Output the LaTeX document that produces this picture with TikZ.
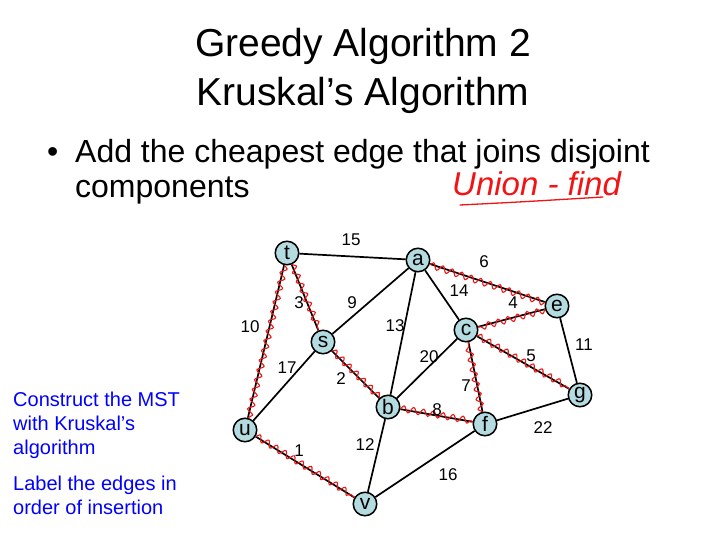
\documentclass[tikz,border=0pt]{standalone}
\usepackage{fontspec}
\setmainfont{Liberation Sans}
\usetikzlibrary{decorations.pathmorphing}
\pgfdeclarelayer{background}
\pgfsetlayers{background,main}
\definecolor{nodefill}{RGB}{180,220,224}
\definecolor{slideblue}{RGB}{0,0,255}
\definecolor{penred}{RGB}{240,20,20}
\tikzset{
  vert/.style={circle,draw=black,line width=1.5pt,fill=nodefill,minimum size=23.5pt,inner sep=0pt,font=\fontsize{21}{21}\selectfont},
  edge/.style={black,line width=1.7pt},
  wt/.style={font=\fontsize{17}{17}\selectfont,inner sep=0pt},
  mst/.style={penred,line width=1.1pt,line join=round,decorate,decoration={snake,amplitude=3.2pt,segment length=10pt,raise=0.8pt}},
  titletext/.style={font=\fontsize{39}{39}\selectfont,anchor=base,inner sep=0pt},
  bullettext/.style={font=\fontsize{32}{32}\selectfont,anchor=base west,inner sep=0pt},
  bluetext/.style={font=\fontsize{20}{20}\selectfont,text=slideblue,anchor=base west,inner sep=0pt},
}
\begin{document}
\begin{tikzpicture}[x=1pt,y=-1pt]
\useasboundingbox (0,0) rectangle (720,540);
% title
\node[titletext] (title1) at (363,57) {Greedy Algorithm 2};
\node[titletext] (title2) at (363,106) {Kruskal’s Algorithm};
% bullet
\node[bullettext] (bul) at (47,163) {•};
\node[bullettext] (line1) at (75,163) {Add the cheapest edge that joins disjoint};
\node[bullettext] (line2) at (75,198) {components};
% handwritten note
\node[font=\fontsize{33}{33}\selectfont\itshape,text=penred,anchor=base west,inner sep=0pt] (uf) at (452,196) {Union - find};
\coordinate (ul1) at (460,205);
\coordinate (ul2) at (603,197);
\draw[penred,line width=1.3pt,line cap=round] (ul1) .. controls (520,202) .. (ul2);
% blue text
\node[bluetext] (b1) at (13,406) {Construct the MST};
\node[bluetext] (b2) at (13,430) {with Kruskal’s};
\node[bluetext] (b3) at (13,454) {algorithm};
\node[bluetext] (b4) at (13,490) {Label the edges in};
\node[bluetext] (b5) at (13,514) {order of insertion};
% vertices
\node[vert] (t) at (287,253) {t};
\node[vert] (a) at (418,260) {a};
\node[vert] (e) at (557,306) {e};
\node[vert] (c) at (466,330) {c};
\node[vert] (s) at (323,342) {s};
\node[vert] (g) at (580,395) {g};
\node[vert] (b) at (388,407) {b};
\node[vert] (f) at (485,424) {f};
\node[vert] (u) at (245,430) {u};
\node[vert] (v) at (365,504) {v};
\begin{pgfonlayer}{background}
\draw[edge] (t) -- (a);
\draw[edge] (t) -- (s);
\draw[edge] (t) -- (u);
\draw[edge] (a) -- (s);
\draw[edge] (a) -- (b);
\draw[edge] (a) -- (c);
\draw[edge] (a) -- (e);
\draw[edge] (e) -- (c);
\draw[edge] (e) -- (g);
\draw[edge] (c) -- (b);
\draw[edge] (c) -- (f);
\draw[edge] (c) -- (g);
\draw[edge] (s) -- (u);
\draw[edge] (s) -- (b);
\draw[edge] (b) -- (f);
\draw[edge] (b) -- (v);
\draw[edge] (f) -- (g);
\draw[edge] (f) -- (v);
\draw[edge] (u) -- (v);
\end{pgfonlayer}
% MST marks
\draw[mst] (t) -- (u);
\draw[mst] (t) -- (s);
\draw[mst] (s) -- (b);
\draw[mst] (b) -- (f);
\draw[mst] (f) -- (c);
\draw[mst] (e) -- (c);
\draw[mst] (c) -- (g);
\draw[mst] (e) -- (a);
\draw[mst] (u) -- (v);
% weights
\node[wt] (w15) at (351,240) {15};
\node[wt] (w6) at (484,262) {6};
\node[wt] (w14) at (459,291) {14};
\node[wt] (w9) at (352,303) {9};
\node[wt] (w3) at (299,303) {3};
\node[wt] (w4) at (513,303) {4};
\node[wt] (w10) at (250,327) {10};
\node[wt] (w13) at (395,326) {13};
\node[wt] (w11) at (584,345) {11};
\node[wt] (w20) at (429,357) {20};
\node[wt] (w5) at (531,356) {5};
\node[wt] (w17) at (287,368) {17};
\node[wt] (w2) at (341,379) {2};
\node[wt] (w7) at (466,386) {7};
\node[wt] (w8) at (437,410) {8};
\node[wt] (w12) at (365,445) {12};
\node[wt] (w22) at (543,428) {22};
\node[wt] (w1) at (299,451) {1};
\node[wt] (w16) at (448,475) {16};
\end{tikzpicture}
\end{document}
